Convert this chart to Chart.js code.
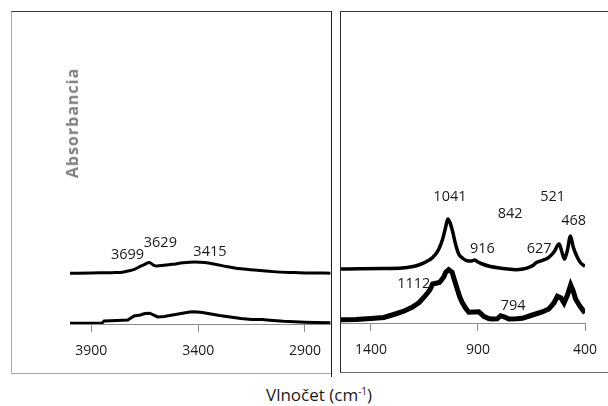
<!DOCTYPE html>
<html>
<head>
<meta charset="utf-8">
<script src="https://cdn.jsdelivr.net/npm/chart.js@4/dist/chart.umd.min.js"></script>
<style>
  html, body { margin: 0; padding: 0; background: #fff; }
  #wrap { position: relative; width: 608px; height: 406px; overflow: hidden; background: #fff; font-family: "Open Sans", sans-serif; }
  .panel { position: absolute; box-sizing: border-box; }
  #leftPanel { left: 11px; top: 11px; width: 321px; height: 363px; border-top: 1.5px solid #3a3a3a; border-left: 1px solid #a8a8a8; border-bottom: 1px solid #a8a8a8; }
  #leftEdge { position: absolute; left: 330.5px; top: 11px; width: 1.5px; height: 366px; background: #1e1e1e; }
  #rightPanel { left: 340px; top: 11px; width: 280px; height: 362px; border-top: 1.5px solid #3a3a3a; border-left: 1.5px solid #2a2a2a; border-bottom: 1px solid #6a6a6a; }
  canvas { position: absolute; left: 0; top: 0; }
  #yTitle { position: absolute; left: 72px; top: 123px; transform: translate(-50%, -50%) rotate(-90deg); font: bold 16px "Open Sans", sans-serif; letter-spacing: 1px; color: #7f7f7f; white-space: nowrap; }
  #xTitle { position: absolute; left: 266px; top: 383px; font: 17px "Open Sans", sans-serif; color: #1a1a1a; white-space: nowrap; }
  #xTitle sup { font-size: 10px; vertical-align: 6px; line-height: 0; }
</style>
</head>
<body>
<div id="wrap">
  <div class="panel" id="leftPanel"><canvas id="cHigh" width="320" height="361"></canvas></div>
  <div id="leftEdge"></div>
  <div class="panel" id="rightPanel"><canvas id="cLow" width="278" height="360"></canvas></div>
  <div id="yTitle">Absorbancia</div>
  <div id="xTitle">Vlnočet (cm<sup>-1</sup>)</div>
</div>
<script>
// O–H stretching region (4000–2780 cm-1)
const waveHighUpper = [4000, 3900, 3800, 3766, 3730, 3699, 3675, 3650, 3629, 3610, 3594, 3560, 3520, 3470, 3415, 3370, 3320, 3268, 3200, 3112, 3050, 2956, 2880, 2780];
const absHighUpper  = [5.05, 5.08, 5.12, 5.13, 5.28, 5.45, 5.7, 5.95, 6.12, 5.88, 5.78, 5.85, 5.95, 6.1, 6.17, 6.12, 5.95, 5.73, 5.5, 5.33, 5.22, 5.13, 5.08, 5.07];
const waveHighLower = [4000, 3900, 3850, 3840, 3780, 3730, 3700, 3670, 3650, 3626, 3610, 3590, 3560, 3520, 3480, 3440, 3418, 3380, 3340, 3300, 3250, 3200, 3150, 3100, 3065, 3000, 2950, 2900, 2850, 2780];
const absHighLower  = [0.07, 0.07, 0.1, 0.3, 0.35, 0.4, 0.8, 0.9, 1.05, 1.07, 0.9, 0.7, 0.75, 0.9, 1.05, 1.2, 1.23, 1.15, 1.0, 0.85, 0.7, 0.55, 0.45, 0.45, 0.38, 0.28, 0.23, 0.18, 0.15, 0.13];

// Fingerprint region (1540–400 cm-1)
const waveLowUpper = [1540, 1450, 1350, 1255, 1210, 1177, 1140, 1112, 1085, 1065, 1052, 1041, 1030, 1018, 1005, 990, 970, 951, 930, 916, 900, 880, 842, 800, 760, 724, 690, 662, 640, 627, 600, 569, 545, 521, 508, 496, 482, 468, 455, 436, 420, 400];
const absLowUpper  = [5.4, 5.42, 5.45, 5.5, 5.62, 5.8, 6.15, 6.55, 7.3, 8.4, 9.5, 10.4, 10.0, 9.1, 7.9, 6.9, 6.45, 6.23, 6.2, 6.3, 6.1, 5.9, 5.65, 5.5, 5.4, 5.33, 5.4, 5.57, 5.8, 6.05, 6.25, 6.57, 7.1, 7.9, 7.1, 6.4, 7.3, 8.7, 7.6, 6.57, 6.0, 5.67];
const waveLowLower = [1540, 1470, 1400, 1340, 1286, 1250, 1208, 1175, 1146, 1125, 1112, 1080, 1060, 1050, 1037, 1021, 1010, 997, 985, 974, 958, 943, 916, 896, 873, 850, 834, 810, 794, 775, 756, 720, 693, 660, 631, 600, 569, 545, 529, 512, 498, 482, 467, 455, 444, 430, 420, 400];
const absLowLower  = [0.33, 0.36, 0.45, 0.55, 0.9, 1.15, 1.57, 2.05, 2.73, 3.3, 3.9, 4.05, 4.6, 5.1, 5.33, 5.07, 4.3, 3.4, 2.6, 2.07, 1.5, 1.07, 1.1, 1.13, 0.67, 0.45, 0.4, 0.42, 0.73, 0.6, 0.4, 0.42, 0.47, 0.7, 0.9, 1.1, 1.4, 2.0, 2.67, 2.5, 2.0, 2.8, 3.8, 3.2, 2.4, 1.9, 1.57, 1.0];

// Axis ticks
const ticksHigh = [3900, 3400, 2900];
const ticksLow  = [1400, 900, 400];

// Band assignments and where each label sits (wavenumber, absorbance)
const bandTextHigh = ['3699', '3629', '3415'];
const bandPosHigh  = [[3731, 6.9], [3577, 8.1], [3345, 7.2]];
const bandTextLow  = ['1041', '842', '521', '468', '916', '627', '1112', '794'];
const bandPosLow   = [[1031, 12.6], [750, 10.9], [551, 12.6], [453, 10.2], [879, 7.4], [614, 7.4], [1200, 3.9], [736, 1.7]];

const toPoints = (xs, ys) => xs.map((x, i) => ({ x, y: ys[i] }));
const FONT = { family: "'Open Sans', sans-serif", size: 14 };
const LABEL_SIZE = 14.5;
const TEXT = '#1a1a1a';

function bandLabels(texts, positions) {
  return {
    id: 'bandLabels',
    afterDatasetsDraw(chart) {
      const { ctx, scales } = chart;
      ctx.save();
      ctx.font = `${LABEL_SIZE}px ${FONT.family}`;
      ctx.fillStyle = TEXT;
      ctx.textAlign = 'center';
      ctx.textBaseline = 'middle';
      texts.forEach((t, i) => {
        const [wx, wy] = positions[i];
        ctx.fillText(t, scales.x.getPixelForValue(wx), scales.y.getPixelForValue(wy));
      });
      ctx.restore();
    }
  };
}

function makeChart(id, cfg) {
  return new Chart(document.getElementById(id), {
    type: 'line',
    data: {
      datasets: [
        { data: cfg.upper, borderColor: '#000', borderWidth: cfg.upperWidth, pointRadius: 0, cubicInterpolationMode: 'monotone', tension: 0.4 },
        { data: cfg.lower, borderColor: '#000', borderWidth: cfg.lowerWidth, pointRadius: 0, tension: 0, borderJoinStyle: 'miter' }
      ]
    },
    options: {
      responsive: false,
      animation: false,
      events: [],
      layout: { padding: cfg.padding },
      plugins: { legend: { display: false }, tooltip: { enabled: false } },
      scales: {
        x: {
          type: 'linear',
          reverse: true,
          min: cfg.min,
          max: cfg.max,
          afterBuildTicks: s => { s.ticks = cfg.ticks.map(v => ({ value: v })); },
          afterFit: s => { s.height = cfg.axisHeight; },
          grid: { drawOnChartArea: false, drawTicks: true, tickLength: 8, color: '#8c8c8c', lineWidth: 1 },
          border: { display: true, color: '#8c8c8c', width: 1 },
          ticks: { padding: 11, font: FONT, color: TEXT, maxRotation: 0, autoSkip: false, callback: v => String(v) }
        },
        y: { display: false, min: 0, max: 30 }
      }
    },
    plugins: [bandLabels(cfg.texts, cfg.positions)]
  });
}

makeChart('cHigh', {
  upper: toPoints(waveHighUpper, absHighUpper),
  lower: toPoints(waveHighLower, absHighLower),
  upperWidth: 3, lowerWidth: 3,
  min: 2780, max: 4000, ticks: ticksHigh,
  padding: { left: 58, right: 0, top: 11, bottom: 0 },
  axisHeight: 49,
  texts: bandTextHigh, positions: bandPosHigh
});

makeChart('cLow', {
  upper: toPoints(waveLowUpper, absLowUpper),
  lower: toPoints(waveLowLower, absLowLower),
  upperWidth: 3.5, lowerWidth: 5,
  min: 400, max: 1540, ticks: ticksLow,
  padding: { left: 0, right: 34, top: 11, bottom: 0 },
  axisHeight: 49,
  texts: bandTextLow, positions: bandPosLow
});
</script>
</body>
</html>
